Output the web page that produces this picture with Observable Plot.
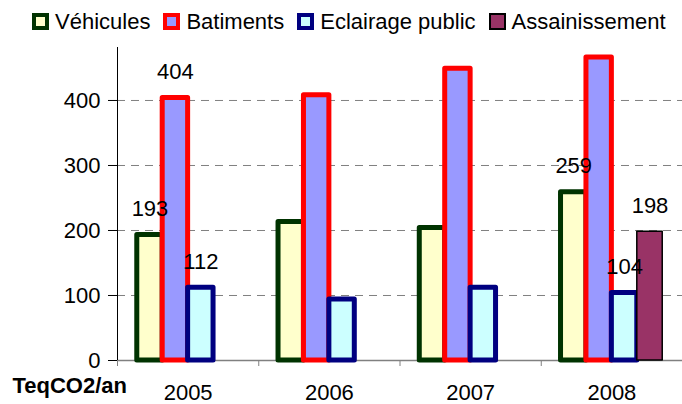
<!DOCTYPE html>
<html><head><meta charset="utf-8">
<script src="https://cdn.jsdelivr.net/npm/d3@7"></script>
<script src="https://cdn.jsdelivr.net/npm/@observablehq/plot@0.6"></script>
<style>
body{margin:0;background:#fff;font-family:"Liberation Sans",Arial,sans-serif;}
#legend{height:40px;width:682px;display:flex;flex-wrap:nowrap;align-items:center;padding-left:32px;padding-top:3px;box-sizing:border-box;font-size:22px;color:#000;white-space:nowrap;}
#legend .item{display:flex;align-items:center;margin-right:13px;flex-shrink:0;}
#legend .sw{width:17px;height:17px;box-sizing:border-box;margin-right:6px;flex-shrink:0;}
#chart svg{display:block;}
</style></head><body>
<div id="legend"></div>
<div id="chart"></div>
<script>
const years = ["2005", "2006", "2007", "2008"];
const series = ["Véhicules", "Batiments", "Eclairage public", "Assainissement"];
const vehicules = [193, 213, 204, 259];
const batiments = [404, 408, 449, 466];
const eclairage = [112, 94, 112, 104];
const assainissement = [null, null, null, 198];
const yTicks = [0, 100, 200, 300, 400];
const labelledBars = [["2005","Véhicules"],["2005","Batiments"],["2005","Eclairage public"],["2008","Véhicules"],["2008","Eclairage public"],["2008","Assainissement"]];
const unitLabel = "TeqCO2/an";

const fills = ["#FFFFCC", "#9999FF", "#CCFFFF", "#993366"];
const strokes = ["#003300", "#FF0000", "#000080", "#000000"];
const strokeWidths = [5, 5, 5, 1.5];

const values = [vehicules, batiments, eclairage, assainissement];
const rows = [];
series.forEach((s, j) => years.forEach((y, i) => {
  const v = values[j][i];
  if (v != null) rows.push({year: y, i, series: s, j, value: v});
}));
const bw = 0.18, gOff = (1 - series.length * bw) / 2;
const xa = d => d.i + gOff + d.j * bw;
const xb = d => d.i + gOff + (d.j + 1) * bw;
const xc = d => d.i + gOff + (d.j + 0.5) * bw;
const labelRows = rows.filter(r => labelledBars.some(([y, s]) => y === r.year && s === r.series));

// legend
const lg = document.getElementById("legend");
series.forEach((s, j) => {
  const it = document.createElement("div"); it.className = "item";
  const sw = document.createElement("span"); sw.className = "sw";
  sw.style.background = fills[j];
  sw.style.border = (j === 3 ? "2px" : "4px") + " solid " + strokes[j];
  const tx = document.createElement("span"); tx.textContent = s;
  it.appendChild(sw); it.appendChild(tx); lg.appendChild(it);
});

const chart = Plot.plot({
  width: 682, height: 364,
  marginTop: 7, marginBottom: 44, marginLeft: 117, marginRight: 0,
  x: {domain: [0, years.length]},
  y: {domain: [0, 481.5]},
  style: {fontFamily: "Liberation Sans, Arial, sans-serif", fontSize: "22px", color: "black", background: "white", overflow: "visible"},
  marks: [
    Plot.gridY(yTicks.filter(d => d > 0), {stroke: "#808080", strokeOpacity: 1, strokeDasharray: "8,6"}),
    Plot.ruleY([0], {stroke: "#808080", strokeWidth: 1.5}),
    Plot.axisX(d3.range(years.length + 1), {tickSize: 6, tickFormat: () => "", stroke: "#808080"}),
    Plot.axisX(years.map((y, i) => i + 0.5), {tickSize: 0, tickPadding: 24, tickFormat: d => years[Math.floor(d)]}),
    Plot.axisY(yTicks, {tickSize: 9, tickPadding: 8, label: null}),
    Plot.ruleX([0], {stroke: "black"}),
    ...series.map((s, j) => Plot.rectY(rows.filter(r => r.j === j), {
      x1: xa, x2: xb, y1: 0, y2: "value",
      fill: fills[j], stroke: strokes[j], strokeWidth: strokeWidths[j], strokeLinejoin: "round"
    })),
    Plot.text(labelRows, {x: xc, y: "value", text: d => String(d.value), dy: -26, fill: "black"}),
    Plot.text([unitLabel], {frameAnchor: "bottom-left", dx: -105, dy: 25, textAnchor: "start", lineAnchor: "middle", fontWeight: "bold", fill: "black"})
  ]
});
document.getElementById("chart").appendChild(chart);
</script>
</body></html>
